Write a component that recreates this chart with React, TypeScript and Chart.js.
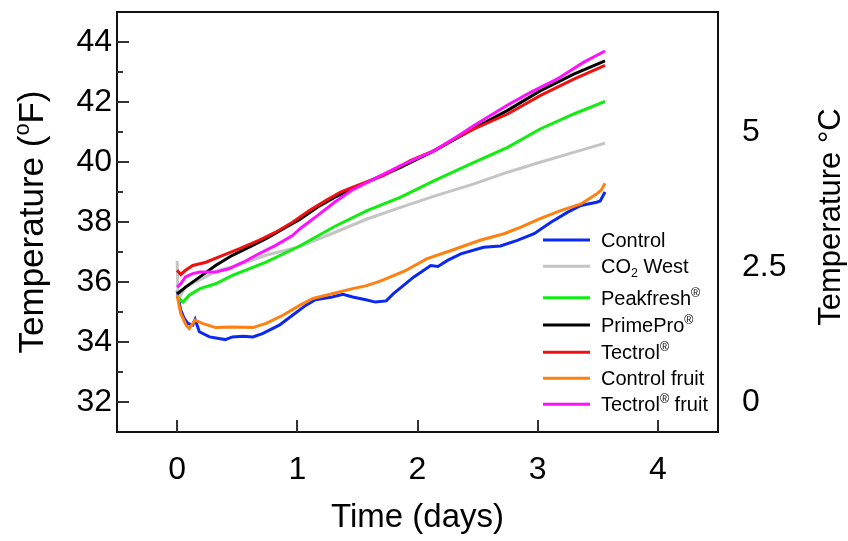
import React, { useEffect, useRef } from "react";
import { Chart, registerables } from "chart.js";

Chart.register(...registerables);

const FONT = '"Liberation Sans", Arial, Helvetica, sans-serif';

// ---- data (time in days, temperature in °F) ----
const controlDays = [0, 0.03, 0.06, 0.09, 0.13, 0.15, 0.185, 0.27, 0.4, 0.46, 0.55, 0.63, 0.71, 0.85, 0.96, 1.07, 1.15, 1.29, 1.38, 1.46, 1.57, 1.65, 1.74, 1.8, 1.97, 2.11, 2.17, 2.25, 2.36, 2.55, 2.69, 2.83, 2.97, 3.11, 3.25, 3.36, 3.49, 3.52, 3.56];
const controlTemps = [35.72, 35.06, 34.78, 34.62, 34.56, 34.75, 34.34, 34.17, 34.08, 34.17, 34.19, 34.17, 34.28, 34.56, 34.89, 35.22, 35.41, 35.5, 35.59, 35.5, 35.41, 35.33, 35.37, 35.61, 36.17, 36.55, 36.52, 36.72, 36.94, 37.16, 37.2, 37.39, 37.61, 37.99, 38.33, 38.55, 38.66, 38.7, 39.0];

const co2Days = [0, 0.008, 0.02, 0.07, 0.15, 0.21, 0.34, 0.46, 0.74, 1.02, 1.31, 1.58, 1.86, 2.14, 2.47, 2.75, 3.02, 3.3, 3.56];
const co2Temps = [36.7, 35.6, 35.5, 35.83, 36.0, 36.11, 36.39, 36.5, 36.89, 37.18, 37.65, 38.1, 38.49, 38.86, 39.27, 39.66, 39.99, 40.32, 40.63];

const peakDays = [0, 0.05, 0.1, 0.19, 0.32, 0.46, 0.74, 1.02, 1.31, 1.58, 1.86, 2.14, 2.47, 2.75, 3.02, 3.3, 3.56];
const peakTemps = [35.5, 35.33, 35.56, 35.78, 35.94, 36.22, 36.66, 37.2, 37.85, 38.38, 38.83, 39.38, 39.99, 40.49, 41.1, 41.6, 42.02];

const primeDays = [0, 0.07, 0.19, 0.32, 0.46, 0.6, 0.74, 0.88, 1.02, 1.17, 1.31, 1.45, 1.64, 1.86, 2.14, 2.33, 2.47, 2.75, 3.02, 3.3, 3.56];
const primeTemps = [35.6, 35.83, 36.17, 36.55, 36.89, 37.16, 37.44, 37.77, 38.08, 38.5, 38.82, 39.1, 39.44, 39.82, 40.38, 40.8, 41.12, 41.72, 42.37, 42.93, 43.37];

const tectrolDays = [0, 0.03, 0.07, 0.13, 0.24, 0.38, 0.52, 0.68, 0.82, 0.96, 1.1, 1.24, 1.36, 1.5, 1.72, 1.94, 2.14, 2.33, 2.47, 2.75, 3.02, 3.3, 3.56];
const tectrolTemps = [36.39, 36.25, 36.39, 36.55, 36.66, 36.89, 37.11, 37.39, 37.66, 37.99, 38.38, 38.72, 39.0, 39.22, 39.55, 40.05, 40.38, 40.82, 41.1, 41.6, 42.21, 42.76, 43.22];

const controlFruitDays = [0, 0.03, 0.075, 0.1, 0.15, 0.21, 0.32, 0.46, 0.63, 0.74, 0.88, 1.02, 1.13, 1.29, 1.46, 1.57, 1.69, 1.89, 2.08, 2.28, 2.52, 2.72, 2.86, 3.02, 3.19, 3.36, 3.49, 3.53, 3.56];
const controlFruitTemps = [35.56, 34.95, 34.56, 34.45, 34.73, 34.62, 34.48, 34.5, 34.48, 34.62, 34.89, 35.22, 35.45, 35.61, 35.78, 35.87, 36.03, 36.36, 36.78, 37.05, 37.39, 37.61, 37.83, 38.11, 38.38, 38.6, 38.93, 39.07, 39.29];

const tectrolFruitDays = [0, 0.03, 0.07, 0.13, 0.19, 0.32, 0.43, 0.55, 0.68, 0.82, 0.96, 1.03, 1.17, 1.31, 1.45, 1.64, 1.86, 2.14, 2.33, 2.47, 2.75, 2.94, 3.16, 3.38, 3.56];
const tectrolFruitTemps = [35.83, 35.94, 36.17, 36.28, 36.33, 36.33, 36.44, 36.66, 36.94, 37.22, 37.55, 37.8, 38.22, 38.66, 39.05, 39.44, 39.88, 40.38, 40.85, 41.22, 41.9, 42.32, 42.76, 43.32, 43.7];

const seriesLabels = ["Control", "CO2 West", "Peakfresh®", "PrimePro®", "Tectrol®", "Control fruit", "Tectrol® fruit"];
const seriesColors = ["#0a28f0", "#c4c4c4", "#10ee10", "#000000", "#f01010", "#ff8010", "#ff10ff"];
const seriesDays = [controlDays, co2Days, peakDays, primeDays, tectrolDays, controlFruitDays, tectrolFruitDays];
const seriesTemps = [controlTemps, co2Temps, peakTemps, primeTemps, tectrolTemps, controlFruitTemps, tectrolFruitTemps];

const dayTicks = [0, 1, 2, 3, 4];
const fahrenheitTicks = [32, 34, 36, 38, 40, 42, 44];
const fahrenheitMinorTicks = [33, 35, 37, 39, 41, 43];
const celsiusTicks = [0, 2.5, 5];

type Part = { t: string; sup?: boolean; sub?: boolean };
const legendParts: Part[][] = [
  [{ t: "Control" }],
  [{ t: "CO" }, { t: "2", sub: true }, { t: " West" }],
  [{ t: "Peakfresh" }, { t: "®", sup: true }],
  [{ t: "PrimePro" }, { t: "®", sup: true }],
  [{ t: "Tectrol" }, { t: "®", sup: true }],
  [{ t: "Control fruit" }],
  [{ t: "Tectrol" }, { t: "®", sup: true }, { t: " fruit" }],
];
const leftTitle: Part[] = [{ t: "Temperature (" }, { t: "o", sup: true }, { t: "F)" }];
const rightTitle: Part[] = [{ t: "Temperature °C" }];
const bottomTitle: Part[] = [{ t: "Time (days)" }];

function drawRich(ctx: CanvasRenderingContext2D, parts: Part[], x: number, y: number, size: number, align: "left" | "center") {
  const fontOf = (p: Part) => `${p.sup || p.sub ? size * 0.62 : size}px ${FONT}`;
  const widths = parts.map((p) => {
    ctx.font = fontOf(p);
    return ctx.measureText(p.t).width;
  });
  const total = widths.reduce((a, b) => a + b, 0);
  let cx = align === "center" ? x - total / 2 : x;
  ctx.textAlign = "left";
  ctx.textBaseline = "alphabetic";
  parts.forEach((p, i) => {
    ctx.font = fontOf(p);
    const dy = p.sup ? -0.4 * size : p.sub ? 0.2 * size : 0;
    ctx.fillText(p.t, cx, y + dy);
    cx += widths[i];
  });
}

const decorPlugin = {
  id: "decor",
  afterDatasetsDraw(chart: any) {
    const ctx: CanvasRenderingContext2D = chart.ctx;
    const { left, right, top, bottom } = chart.chartArea;
    const xs = chart.scales.x;
    const ys = chart.scales.y;
    ctx.save();
    // frame
    ctx.strokeStyle = "#111";
    ctx.lineWidth = 2;
    ctx.strokeRect(left, top, right - left, bottom - top);
    // ticks (inward)
    ctx.strokeStyle = "#333";
    ctx.lineWidth = 2;
    ctx.beginPath();
    fahrenheitTicks.forEach((v) => {
      const py = Math.round(ys.getPixelForValue(v));
      ctx.moveTo(left, py);
      ctx.lineTo(left + 12, py);
    });
    fahrenheitMinorTicks.forEach((v) => {
      const py = Math.round(ys.getPixelForValue(v));
      ctx.moveTo(left, py);
      ctx.lineTo(left + 6, py);
    });
    dayTicks.forEach((v) => {
      const px = Math.round(xs.getPixelForValue(v));
      ctx.moveTo(px, bottom);
      ctx.lineTo(px, bottom - 12);
    });
    ctx.stroke();

    // legend
    const rowOffsets = [192, 165.7, 134.3, 107, 79.7, 53.7, 27.7];
    const fs = 20;
    chart.data.datasets.forEach((ds: any, i: number) => {
      const ry = bottom - rowOffsets[i];
      ctx.strokeStyle = ds.borderColor;
      ctx.lineWidth = 3;
      ctx.beginPath();
      ctx.moveTo(right - 175, ry);
      ctx.lineTo(right - 128, ry);
      ctx.stroke();
      ctx.fillStyle = "#000";
      drawRich(ctx, legendParts[i], right - 117, ry + 0.358 * fs, fs, "left");
    });

    // axis titles
    ctx.fillStyle = "#000";
    drawRich(ctx, bottomTitle, (left + right) / 2, 527, 33, "center");
    ctx.save();
    ctx.translate(43, 222);
    ctx.rotate(-Math.PI / 2);
    drawRich(ctx, leftTitle, 0, 0, 35, "center");
    ctx.restore();
    ctx.save();
    ctx.translate(840, 217);
    ctx.rotate(-Math.PI / 2);
    drawRich(ctx, rightTitle, 0, 0, 31, "center");
    ctx.restore();
    ctx.restore();
  },
};

function zeroPad(s: any) {
  s.paddingTop = 0;
  s.paddingBottom = 0;
  s.paddingLeft = 0;
  s.paddingRight = 0;
}

export default function App() {
  const ref = useRef<HTMLCanvasElement | null>(null);
  useEffect(() => {
    document.body.style.margin = "0";
    const canvas = ref.current!;
    const datasets = seriesLabels.map((label, i) => ({
      label,
      data: seriesDays[i].map((d, k) => ({ x: d, y: seriesTemps[i][k] })),
      borderColor: seriesColors[i],
      backgroundColor: seriesColors[i],
      borderWidth: 3,
      pointRadius: 0,
      tension: 0,
      fill: false,
      order: -i,
      xAxisID: "x",
      yAxisID: "y",
    }));
    const tickFont = { family: FONT, size: 32 };
    const chart = new Chart(canvas, {
      type: "line",
      data: { datasets },
      options: {
        animation: false,
        responsive: false,
        events: [],
        layout: { padding: { top: 12, left: 0, right: 0, bottom: 0 } },
        plugins: { legend: { display: false }, tooltip: { enabled: false }, title: { display: false } },
        scales: {
          x: {
            type: "linear",
            position: "bottom",
            min: -0.5,
            max: 4.5,
            afterBuildTicks: (s: any) => {
              s.ticks = dayTicks.map((v) => ({ value: v }));
            },
            afterFit: (s: any) => {
              s.height = 109;
              zeroPad(s);
            },
            ticks: { font: tickFont, color: "#000", padding: 19, maxRotation: 0, autoSkip: false },
            grid: { display: false, drawTicks: false },
            border: { display: false },
          },
          y: {
            type: "linear",
            position: "left",
            min: 31,
            max: 45,
            afterBuildTicks: (s: any) => {
              s.ticks = fahrenheitTicks.map((v) => ({ value: v }));
            },
            afterFit: (s: any) => {
              s.width = 117;
              zeroPad(s);
            },
            ticks: { font: tickFont, color: "#000", padding: 5, autoSkip: false },
            grid: { display: false, drawTicks: false },
            border: { display: false },
          },
          yC: {
            type: "linear",
            position: "right",
            min: ((31 - 32) * 5) / 9,
            max: ((45 - 32) * 5) / 9,
            afterBuildTicks: (s: any) => {
              s.ticks = celsiusTicks.map((v) => ({ value: v }));
            },
            afterFit: (s: any) => {
              s.width = 130;
              zeroPad(s);
            },
            ticks: { font: tickFont, color: "#000", padding: 24, autoSkip: false, callback: (v: any) => String(v) },
            grid: { display: false, drawTicks: false },
            border: { display: false },
          },
        },
      },
      plugins: [decorPlugin],
    } as any);
    return () => chart.destroy();
  }, []);
  return <canvas ref={ref} width={848} height={541} style={{ display: "block" }} />;
}
